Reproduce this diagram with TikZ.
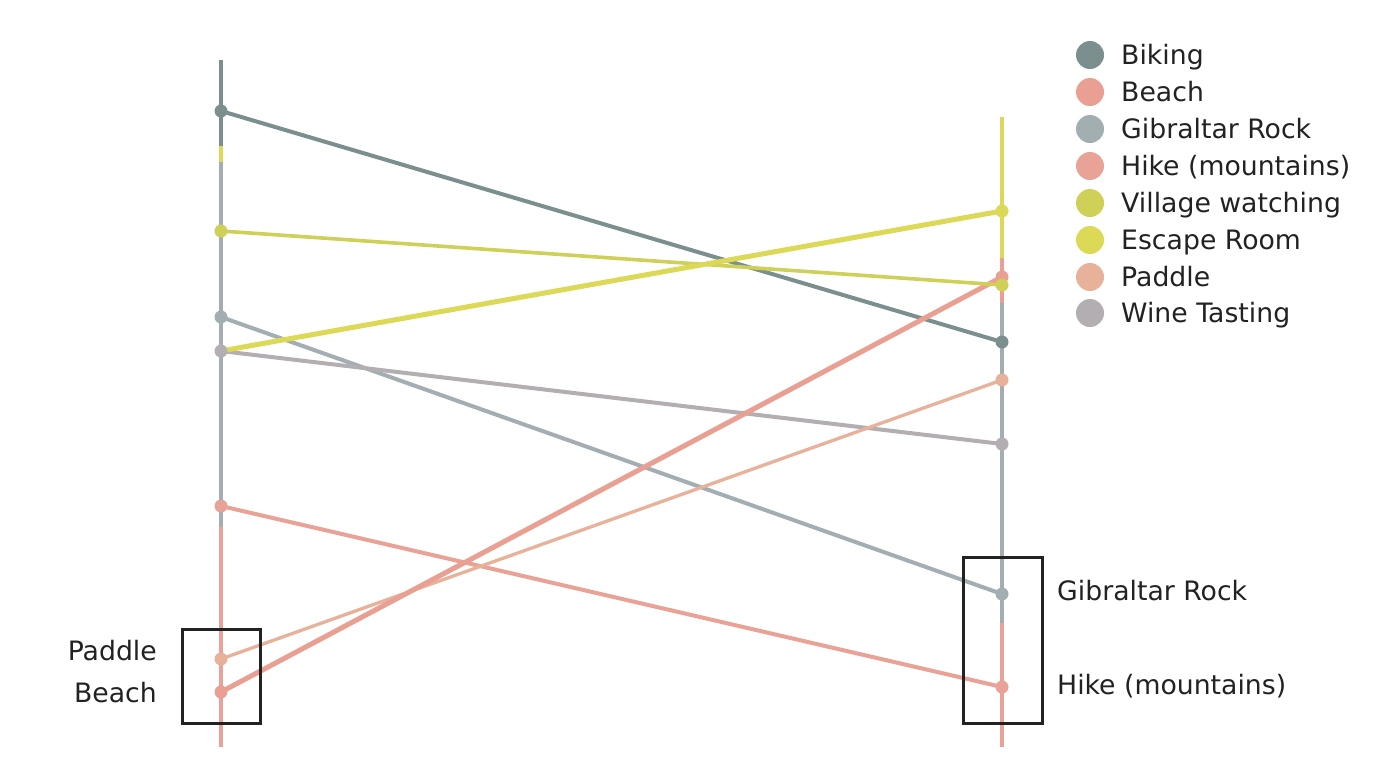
\documentclass[tikz,border=0pt]{standalone}
\usepackage{fontspec}
\setmainfont{DejaVu Sans}
\begin{document}
\begin{tikzpicture}[x=1pt,y=-1pt,
  axisseg/.style={line width=4pt},
  conn/.style={line width=4pt},
  ptdot/.style={circle,fill=#1,minimum size=13pt,inner sep=0pt},
  legdot/.style={circle,fill=#1,minimum size=28pt,inner sep=0pt},
  legtxt/.style={anchor=base west,font=\fontsize{26.7}{30}\selectfont,text=txt,inner sep=0pt},
  lab/.style={font=\fontsize{26.7}{30}\selectfont,text=txt,inner sep=0pt},
  frame/.style={draw=txt,line width=3pt}]
\definecolor{cBike}{HTML}{7C8F8F}
\definecolor{cGib}{HTML}{A3AEB3}
\definecolor{cHike}{HTML}{E8A296}
\definecolor{cBeach}{HTML}{E9A092}
\definecolor{cEsc}{HTML}{DBD955}
\definecolor{cVil}{HTML}{CFD058}
\definecolor{cPad}{HTML}{E8B29A}
\definecolor{cWine}{HTML}{B3AEB2}
\definecolor{txt}{HTML}{222222}
\useasboundingbox (0,0) rectangle (1400,769);
\fill[white] (0,0) rectangle (1400,769);
% axis segment coordinates
\coordinate (la0) at (221,60);
\coordinate (la1) at (221,146);
\coordinate (la2) at (221,162);
\coordinate (la3) at (221,527);
\coordinate (la4) at (221,747);
\coordinate (ra0) at (1002,117);
\coordinate (ra1) at (1002,258);
\coordinate (ra2) at (1002,303);
\coordinate (ra3) at (1002,623);
\coordinate (ra4) at (1002,747);
\draw[axisseg,cBike] (la0) -- (la1);
\draw[axisseg,cEsc] (la1) -- (la2);
\draw[axisseg,cGib] (la2) -- (la3);
\draw[axisseg,cHike] (la3) -- (la4);
\draw[axisseg,cEsc] (ra0) -- (ra1);
\draw[axisseg,cBeach] (ra1) -- (ra2);
\draw[axisseg,cGib] (ra2) -- (ra3);
\draw[axisseg,cHike] (ra3) -- (ra4);
% points
\coordinate (lBike) at (221,111);
\coordinate (lVil) at (221,231);
\coordinate (lGib) at (221,317);
\coordinate (lEsc) at (221,351);
\coordinate (lWine) at (221,351);
\coordinate (lHike) at (221,506);
\coordinate (lPad) at (221,659);
\coordinate (lBeach) at (221,692);
\coordinate (rEsc) at (1002,211);
\coordinate (rBeach) at (1002,277);
\coordinate (rVil) at (1002,285);
\coordinate (rBike) at (1002,342);
\coordinate (rPad) at (1002,380);
\coordinate (rWine) at (1002,444);
\coordinate (rGib) at (1002,594);
\coordinate (rHike) at (1002,687);
% connectors
\draw[conn,cBike] (lBike) -- (rBike);
\draw[conn,cGib] (lGib) -- (rGib);
\draw[conn,cWine] (lWine) -- (rWine);
\draw[conn,cHike] (lHike) -- (rHike);
\draw[conn,cPad,line width=3.3pt] (lPad) -- (rPad);
\draw[conn,cBeach,line width=5pt] (lBeach) -- (rBeach);
\draw[conn,cVil,line width=3.6pt] (lVil) -- (rVil);
\draw[conn,cEsc,line width=5pt] (lEsc) -- (rEsc);
% dots
\node[ptdot=cBike] (dlBike) at (lBike) {};
\node[ptdot=cVil] (dlVil) at (lVil) {};
\node[ptdot=cGib] (dlGib) at (lGib) {};
\node[ptdot=cWine] (dlWine) at (lWine) {};
\node[ptdot=cHike] (dlHike) at (lHike) {};
\node[ptdot=cPad] (dlPad) at (lPad) {};
\node[ptdot=cBeach] (dlBeach) at (lBeach) {};
\node[ptdot=cEsc] (drEsc) at (rEsc) {};
\node[ptdot=cBeach] (drBeach) at (rBeach) {};
\node[ptdot=cVil] (drVil) at (rVil) {};
\node[ptdot=cBike] (drBike) at (rBike) {};
\node[ptdot=cPad] (drPad) at (rPad) {};
\node[ptdot=cWine] (drWine) at (rWine) {};
\node[ptdot=cGib] (drGib) at (rGib) {};
\node[ptdot=cHike] (drHike) at (rHike) {};
% highlight boxes
\draw[frame] (182,629) rectangle (260,723);
\draw[frame] (963,557) rectangle (1042,723);
% labels
\node[lab,anchor=base east] (tPad) at (157,660) {Paddle};
\node[lab,anchor=base east] (tBeach) at (157,702) {Beach};
\node[lab,anchor=base west] (tGib) at (1057,600) {Gibraltar Rock};
\node[lab,anchor=base west] (tHike) at (1057,694) {Hike (mountains)};
% legend
\node[legdot=cBike] (g1) at (1090,55) {};
\node[legdot=cBeach] (g2) at (1090,92) {};
\node[legdot=cGib] (g3) at (1090,129) {};
\node[legdot=cHike] (g4) at (1090,166) {};
\node[legdot=cVil] (g5) at (1090,203) {};
\node[legdot=cEsc] (g6) at (1090,240) {};
\node[legdot=cPad] (g7) at (1090,277) {};
\node[legdot=cWine] (g8) at (1090,313) {};
\node[legtxt] (h1) at (1121,64) {Biking};
\node[legtxt] (h2) at (1121,101) {Beach};
\node[legtxt] (h3) at (1121,138) {Gibraltar Rock};
\node[legtxt] (h4) at (1121,175) {Hike (mountains)};
\node[legtxt] (h5) at (1121,212) {Village watching};
\node[legtxt] (h6) at (1121,249) {Escape Room};
\node[legtxt] (h7) at (1121,286) {Paddle};
\node[legtxt] (h8) at (1121,322) {Wine Tasting};
\end{tikzpicture}
\end{document}
